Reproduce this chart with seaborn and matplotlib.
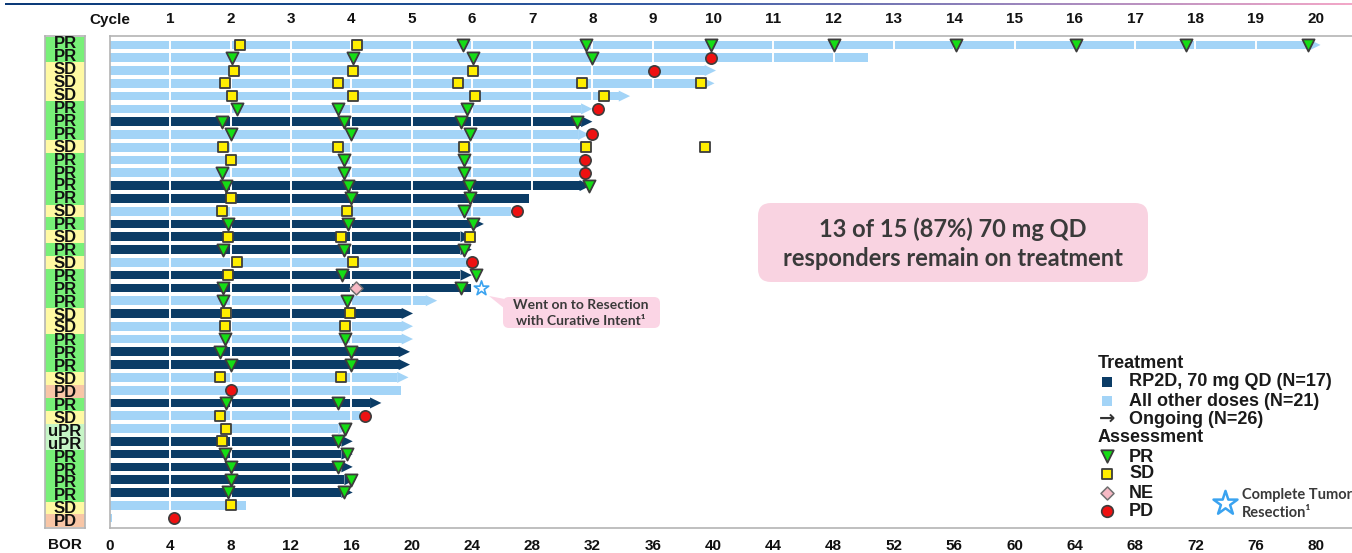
import numpy as np
import pandas as pd
import matplotlib
matplotlib.use("Agg")
import matplotlib.pyplot as plt
import seaborn as sns
from matplotlib.patches import Polygon, FancyBboxPatch
from matplotlib.colors import LinearSegmentedColormap

# ---------------- data ----------------
# best overall response per patient (top to bottom)
bor = ["PR", "PR", "SD", "SD", "SD", "PR", "PR", "PR", "SD", "PR",
       "PR", "PR", "PR", "SD", "PR", "SD", "PR", "SD", "PR", "PR",
       "PR", "SD", "SD", "PR", "PR", "PR", "SD", "PD", "PR", "SD",
       "uPR", "uPR", "PR", "PR", "PR", "PR", "SD", "PD"]

# time on treatment, weeks
duration_weeks = [80.3, 50.3, 40.2, 40.1, 34.5, 32.0, 32.0, 31.8, 31.3, 31.3,
                  31.3, 31.9, 27.8, 26.6, 24.8, 24.0, 24.0, 23.7, 24.0, 24.0,
                  21.7, 20.1, 20.1, 20.1, 19.9, 19.9, 19.8, 19.3, 18.0, 16.6,
                  15.9, 16.1, 16.1, 16.1, 16.3, 16.1, 9.0, 0.15]

# patients on RP2D 70 mg QD; all others received other doses
rp2d_patients = [7, 12, 13, 15, 16, 17, 19, 20, 22, 25, 26, 29, 32, 33, 34, 35, 36]
# patients still on treatment
ongoing_patients = [1, 3, 4, 5, 6, 7, 8, 12, 15, 16, 17, 19, 21, 22, 23, 24, 25,
                    26, 27, 29, 31, 32, 33, 34, 35, 36]

# tumour assessments: (patient, week)
pr_marks = [(1, 23.4), (1, 31.6), (1, 39.9), (1, 48.0), (1, 56.1), (1, 64.1), (1, 71.4), (1, 79.5),
            (2, 8.1), (2, 16.1), (2, 24.1), (2, 32.0),
            (6, 8.4), (6, 15.1), (6, 23.7),
            (7, 7.4), (7, 15.5), (7, 23.3), (7, 31.0),
            (8, 8.0), (8, 16.0), (8, 23.9),
            (10, 15.5), (10, 23.5),
            (11, 7.4), (11, 15.5), (11, 23.5),
            (12, 7.7), (12, 15.8), (12, 23.8), (12, 31.8),
            (13, 16.0), (13, 23.9),
            (14, 23.5),
            (15, 7.8), (15, 15.8), (15, 24.1),
            (17, 7.5), (17, 15.5), (17, 23.5),
            (19, 15.4), (19, 24.3),
            (20, 7.5), (20, 23.3),
            (21, 7.5), (21, 15.7),
            (24, 7.6), (24, 15.6),
            (25, 7.3), (25, 16.0),
            (26, 8.0), (26, 16.0),
            (29, 7.7), (29, 15.1),
            (31, 15.6), (32, 15.1),
            (33, 7.6), (33, 15.7),
            (34, 8.0), (34, 15.1),
            (35, 8.0), (35, 16.0),
            (36, 7.8), (36, 15.5)]
sd_marks = [(1, 8.6), (1, 16.4),
            (3, 8.2), (3, 16.1), (3, 24.1),
            (4, 7.6), (4, 15.1), (4, 23.1), (4, 31.3), (4, 39.2),
            (5, 8.1), (5, 16.1), (5, 24.2), (5, 32.8),
            (9, 7.5), (9, 15.1), (9, 23.5), (9, 31.6), (9, 39.5),
            (10, 8.0), (13, 8.0),
            (14, 7.4), (14, 15.7),
            (16, 7.8), (16, 15.3), (16, 23.9),
            (18, 8.4), (18, 16.1),
            (19, 7.8),
            (22, 7.7), (22, 15.9),
            (23, 7.6), (23, 15.6),
            (27, 7.3), (27, 15.3),
            (30, 7.3), (31, 7.7), (32, 7.4), (37, 8.0)]
ne_marks = [(20, 16.3)]
pd_marks = [(2, 39.9), (3, 36.1), (6, 32.4), (8, 32.0), (10, 31.5), (11, 31.5),
            (14, 27.0), (18, 24.0), (28, 8.0), (30, 16.9), (38, 4.25)]
resection_marks = [(20, 24.6)]

week_ticks = list(range(0, 81, 4))
cycle_labels = list(range(1, 21))

# ---------------- style ----------------
NAVY = "#0b3c66"
LIGHT = "#a3d4f7"
EDGE = "#3c3c3c"
BOR_COLORS = {"PR": "#78f078", "SD": "#fff9a3", "PD": "#f8c6a6", "uPR": "#c6f5c6"}

sns.set_style("white")
plt.rcParams["font.family"] = ["Liberation Sans", "DejaVu Sans"]

W, H = 1352, 553
fig = plt.figure(figsize=(W / 100, H / 100), dpi=100)

n = len(bor)
ax_left, ax_top, ax_bottom = 110, 36, 528
ax = fig.add_axes([ax_left / W, 1 - ax_bottom / H, (W - ax_left) / W, (ax_bottom - ax_top) / H])

df = pd.DataFrame({
    "patient": np.arange(1, n + 1),
    "weeks": duration_weeks,
    "dose": ["RP2D" if p in rp2d_patients else "Other" for p in range(1, n + 1)],
    "ongoing": [p in ongoing_patients for p in range(1, n + 1)],
})
head_len, head_half = 0.75, 0.43
df["shaft"] = np.where(df["ongoing"], df["weeks"] - head_len, df["weeks"])

sns.barplot(data=df, x="shaft", y="patient", hue="dose", hue_order=["RP2D", "Other"],
            palette={"RP2D": NAVY, "Other": LIGHT}, orient="h", dodge=False,
            width=0.68, saturation=1, errorbar=None, legend=False, linewidth=0, ax=ax)
for p in ax.patches:
    p.set_zorder(2)

# cycle separators across the bars
ax.vlines(week_ticks[1:], -0.5, n - 0.5, color="white", lw=1.4, zorder=2.5)

# arrowheads for patients still on treatment
for i, r in df.iterrows():
    if r["ongoing"]:
        y = i
        col = NAVY if r["dose"] == "RP2D" else LIGHT
        ax.add_patch(Polygon([(r["shaft"], y - head_half), (r["weeks"], y), (r["shaft"], y + head_half)],
                             closed=True, fc=col, ec="none", zorder=2.6))


def scatter(marks, **kw):
    d = pd.DataFrame(marks, columns=["patient", "week"])
    sns.scatterplot(x=d["week"], y=d["patient"] - 1, ax=ax, zorder=4, legend=False, **kw)


scatter(pr_marks, marker="v", s=76, color="#15dd15", edgecolor=EDGE, linewidth=1.3)
scatter(sd_marks, marker="s", s=46, color="#ffee00", edgecolor=EDGE, linewidth=1.3)
scatter(ne_marks, marker="D", s=44, color="#f6b9c4", edgecolor="#707070", linewidth=1.1)
scatter(pd_marks, marker="o", s=66, color="#ee1111", edgecolor=EDGE, linewidth=1.2)
scatter(resection_marks, marker="*", s=120, color="white", edgecolor="#3aa3f0", linewidth=1.2)

ax.set_xlim(0, (W - ax_left) / 15.075)
ax.set_ylim(n - 1 + 0.78, -0.70)
ax.set_yticks([])
ax.set_xlabel("")
ax.set_ylabel("")
ax.set_xticks(week_ticks)
ax.set_xticklabels([str(t) for t in week_ticks], fontsize=11, fontweight="bold", color="#111111")
ax.tick_params(axis="x", length=0, pad=8)
for side in ["left", "top", "bottom"]:
    ax.spines[side].set_color("#b4b4b4")
    ax.spines[side].set_linewidth(1.2)
ax.spines["right"].set_visible(False)

sec = ax.secondary_xaxis("top")
sec.set_xticks([4 * c for c in cycle_labels])
sec.set_xticklabels([str(c) for c in cycle_labels], fontsize=11, fontweight="bold", color="#111111")
sec.tick_params(length=0, pad=7)
sec.spines["top"].set_visible(False)

# best overall response column
bx = fig.add_axes([45 / W, 1 - ax_bottom / H, 40 / W, (ax_bottom - ax_top) / H])
bx.barh(np.arange(n), 1, left=0, height=1, color=[BOR_COLORS[b] for b in bor], edgecolor="none")
for i, b in enumerate(bor):
    bx.text(0.5, i + 0.06, b, ha="center", va="center", fontsize=12, fontweight="bold", color="#111111")
bx.set_xlim(0, 1)
bx.set_ylim(n - 0.5 + 0.05, -0.5 - 0.05)
bx.set_xticks([])
bx.set_yticks([])
for s in bx.spines.values():
    s.set_color("#b4b4b4")
    s.set_linewidth(1.2)

# header rule
hx = fig.add_axes([5 / W, 1 - 5.5 / H, (W - 5) / W, 2.5 / H])
grad = LinearSegmentedColormap.from_list("rule", ["#0c3a78", "#174a8e", "#3a5ea6", "#9a86bd", "#f2a8c8"])
hx.imshow(np.linspace(0, 1, 400)[None, :], aspect="auto", cmap=grad, extent=(0, 1, 0, 1))
hx.axis("off")

# overlay in pixel coordinates for labels, legend and callouts
ov = fig.add_axes([0, 0, 1, 1], zorder=10)
ov.set_xlim(0, W)
ov.set_ylim(H, 0)
ov.axis("off")
ov.patch.set_alpha(0)

ov.text(110, 20, "Cycle", ha="center", va="center", fontsize=11, fontweight="bold", color="#111111")
ov.text(65, 545, "BOR", ha="center", va="center", fontsize=11, fontweight="bold", color="#111111")

TXT = "#3a3a3a"
CAL = ["Lato", "DejaVu Sans"]
ov.add_patch(FancyBboxPatch((758, 203), 390, 79, boxstyle="round,pad=0,rounding_size=13",
                            fc="#f9d3e1", ec="none"))
ov.text(953, 229, "13 of 15 (87%) 70 mg QD", ha="center", va="center", fontsize=17,
        fontweight="bold", color=TXT, family=CAL)
ov.text(953, 258, "responders remain on treatment", ha="center", va="center", fontsize=17,
        fontweight="bold", color=TXT, family=CAL)

ov.add_patch(FancyBboxPatch((503, 297), 157, 31, boxstyle="round,pad=0,rounding_size=6",
                            fc="#fbd5e5", ec="none"))
ov.add_patch(Polygon([(489, 296), (510, 300), (510, 313)], closed=True, fc="#fbd5e5", ec="none"))
ov.text(581, 305, "Went on to Resection", ha="center", va="center", fontsize=10,
        fontweight="bold", color=TXT, family=CAL)
ov.text(581, 321, "with Curative Intent\u00b9", ha="center", va="center", fontsize=10,
        fontweight="bold", color=TXT, family=CAL)

# legend
LEG = "#1a1a1a"
mx, tx = 1107, 1129
ov.text(1098, 364, "Treatment", ha="left", va="center", fontsize=13, fontweight="bold", color=LEG)
ov.scatter([mx], [382], marker="s", s=50, color=NAVY, linewidth=0)
ov.text(tx, 382, "RP2D, 70 mg QD (N=17)", ha="left", va="center", fontsize=13, fontweight="bold", color=LEG)
ov.scatter([mx], [401], marker="s", s=50, color=LIGHT, linewidth=0)
ov.text(tx, 401, "All other doses (N=21)", ha="left", va="center", fontsize=13, fontweight="bold", color=LEG)
ov.text(mx, 418, "\u2192", ha="center", va="center", fontsize=14, fontweight="bold", color="#333333",
        family=["DejaVu Sans"])
ov.text(tx, 419, "Ongoing (N=26)", ha="left", va="center", fontsize=13, fontweight="bold", color=LEG)
ov.text(1098, 438, "Assessment", ha="left", va="center", fontsize=13, fontweight="bold", color=LEG)
ov.scatter([mx], [456], marker="v", s=80, color="#15dd15", edgecolor=EDGE, linewidth=1.3)
ov.text(tx, 457, "PR", ha="left", va="center", fontsize=13, fontweight="bold", color=LEG)
ov.scatter([mx], [474], marker="s", s=44, color="#ffee00", edgecolor=EDGE, linewidth=1.3)
ov.text(tx, 474, "SD", ha="left", va="center", fontsize=13, fontweight="bold", color=LEG)
ov.scatter([mx], [493], marker="D", s=44, color="#f6b9c4", edgecolor="#707070", linewidth=1.1)
ov.text(tx, 493, "NE", ha="left", va="center", fontsize=13, fontweight="bold", color=LEG)
ov.scatter([mx], [511], marker="o", s=70, color="#ee1111", edgecolor=EDGE, linewidth=1.2)
ov.text(tx, 511, "PD", ha="left", va="center", fontsize=13, fontweight="bold", color=LEG)
ov.scatter([1225], [503], marker="*", s=330, color="white", edgecolor="#3aa3f0", linewidth=1.8)
ov.text(1242, 495, "Complete Tumor", ha="left", va="center", fontsize=10.5, fontweight="bold", color=TXT, family=CAL)
ov.text(1242, 513, "Resection\u00b9", ha="left", va="center", fontsize=10.5, fontweight="bold", color=TXT, family=CAL)

fig.savefig("out.png", dpi=100)
